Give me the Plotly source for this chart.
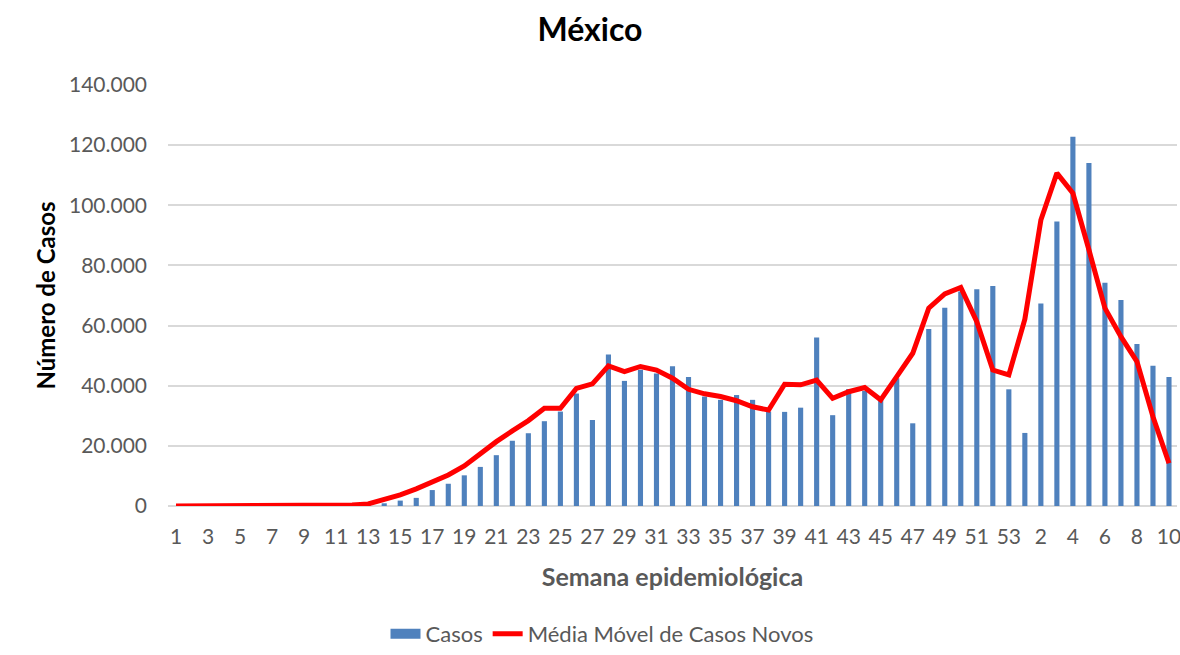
import plotly.graph_objects as go

# Epidemiological weeks: 1..53 (2020) then 1..10 (2021)
weeks = list(range(1, 54)) + list(range(1, 11))

casos = [0, 0, 0, 0, 0, 0, 0, 0, 0, 20,
         60, 200, 500, 900, 1800, 2700, 5300, 7400, 10200, 13000,
         16900, 21700, 24200, 28200, 31400, 37400, 28600, 50400, 41600, 45300,
         44100, 46500, 42900, 36400, 35300, 36900, 35300, 31400, 31300, 32700,
         56000, 30200, 38900, 38300, 35300, 42500, 27500, 58900, 65900, 71300,
         72100, 73200, 38800, 24300, 67300, 94600, 122800, 114100, 74200, 68500,
         53900, 46600, 42900]

media_movel = [0, 0, 0, 0, 0, 0, 0, 0, 0, 0,
               100, 330, 700, 2000, 3700, 5700, 8100, 10300, 13300, 17500,
               21400, 25000, 28400, 32500, 32500, 39100, 40600, 46600, 44700, 46400,
               45200, 42500, 38800, 37300, 36400, 35000, 33000, 31900, 40500, 40300,
               41900, 35800, 38000, 39400, 35300, 43000, 50800, 65800, 70500, 72700,
               61300, 45200, 43600, 62100, 95100, 110700, 104000, 85200, 65800, 56300,
               48000, 29700, 14200]

x_idx = list(range(len(weeks)))
tick_idx = x_idx[::2]
tick_txt = [str(weeks[i]) for i in tick_idx]

FONT = "Lato"
GRAY = "#595959"
BLUE = "#4F81BD"
RED = "#FF0000"

W, H = 1180, 655

fig = go.Figure()
fig.add_trace(go.Bar(x=x_idx, y=casos, name="Casos", showlegend=False,
                     marker=dict(color=BLUE, line=dict(width=0))))
# legend entry for the bars drawn as a wide block (no data)
fig.add_trace(go.Scatter(x=[None], y=[None], name="Casos", mode="lines",
                         line=dict(color=BLUE, width=16)))
fig.add_trace(go.Scatter(x=x_idx, y=media_movel, name="Média Móvel de Casos Novos",
                         mode="lines", line=dict(color=RED, width=5)))

fig.update_layout(
    width=W, height=H,
    paper_bgcolor="white", plot_bgcolor="white",
    separators=",.",
    bargap=0.68,
    margin=dict(l=168, r=3, t=85, b=149, autoexpand=False),
    font=dict(family=FONT, color=GRAY, size=21),
    title=dict(text="<b>México</b>", x=0.5, xanchor="center", y=1 - 30 / H, yanchor="middle",
               font=dict(family=FONT, size=32, color="black")),
    xaxis=dict(range=[-0.5, len(weeks) - 0.5], tickmode="array", tickvals=tick_idx,
               ticktext=tick_txt, showgrid=False, zeroline=False,
               showline=False, ticks="", ticklabelstandoff=16, automargin=False,
               ticklabeloverflow="allow",
               tickfont=dict(size=21, color=GRAY),
               title=dict(text="<b>Semana epidemiológica</b>", standoff=21,
                          font=dict(size=25, color=GRAY))),
    yaxis=dict(range=[0, 140000], tick0=0, dtick=20000, tickformat=",d",
               showgrid=True, gridcolor="#D9D9D9", gridwidth=1.5,
               zeroline=True, zerolinecolor="#D9D9D9", zerolinewidth=1.5,
               ticks="", ticklabelstandoff=20, automargin=False,
               tickfont=dict(size=21, color=GRAY),
               title=dict(text="<b>Número de Casos</b>", standoff=6,
                          font=dict(size=24, color="black"))),
    legend=dict(orientation="h", xref="container", yref="container",
                x=602 / W, xanchor="center", y=0, yanchor="bottom",
                font=dict(size=22, color=GRAY), traceorder="normal"),
)

fig.write_html(
    "out.html",
    config={"displayModeBar": False},
    post_script="document.body.style.margin='0';document.body.style.overflow='hidden';",
)
